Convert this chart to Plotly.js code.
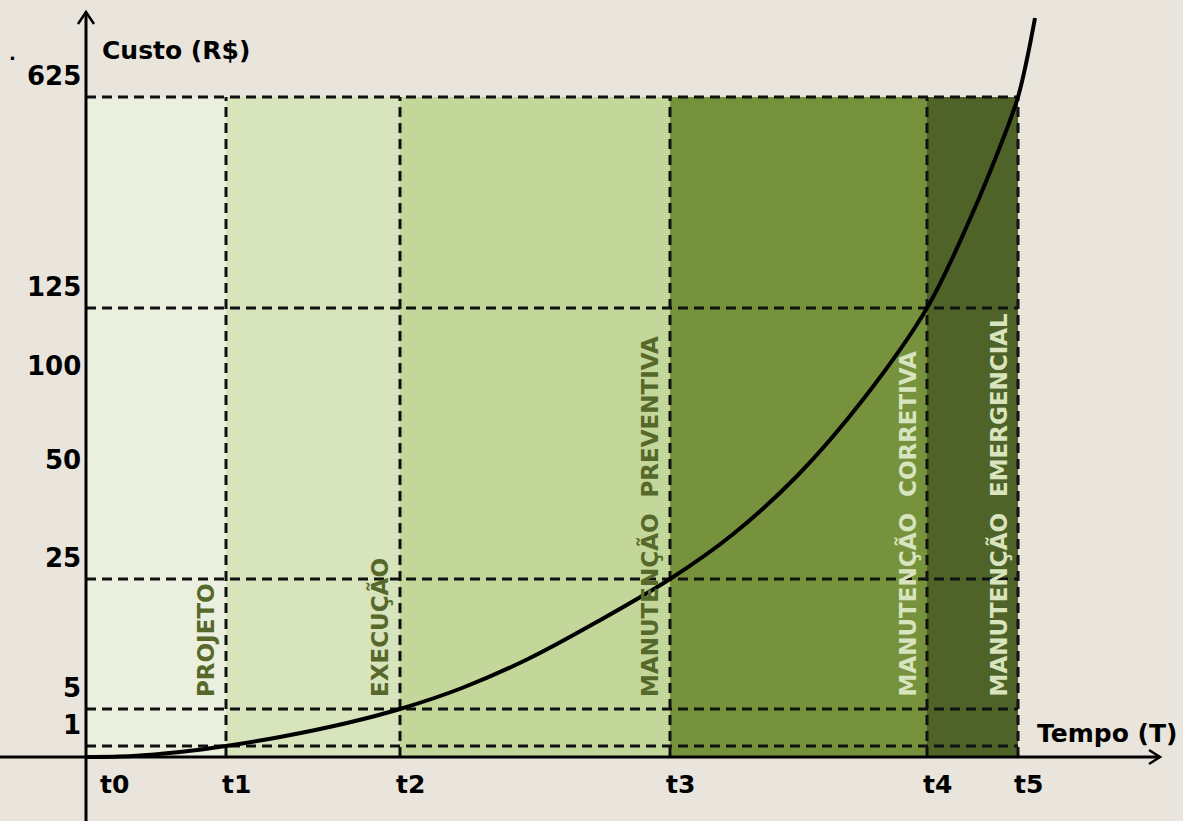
<!DOCTYPE html>
<html><head><meta charset="utf-8">
<script src="https://cdn.plot.ly/plotly-3.0.1.min.js"></script>
<style>html,body{margin:0;padding:0;background:#e9e4dc;overflow:hidden;} #chart{width:1183px;height:821px;}</style>
</head><body><div id="chart"></div>
<script>
// ---- data (chart units) ----
const timeLabels = ['t0','t1','t2','t3','t4','t5'];
const timeValues = [0, 140, 314, 584, 841, 932];
const costLevels = ['0','1','5','25','125','625'];
const costAtTime = [0, 11, 48, 178, 449, 660];
const costTickLabels = ['625','125','100','50','25','5','1'];
const costTickValues = [660, 449, 370, 276, 178, 48, 11];
const phaseNames = ['PROJETO','EXECUÇÃO','MANUTENÇÃO\u00a0\u00a0PREVENTIVA','MANUTENÇÃO\u00a0\u00a0CORRETIVA','MANUTENÇÃO\u00a0\u00a0EMERGENCIAL'];
const phaseColors = ['#ebf0de','#d7e4bc','#c4d79b','#76923c','#4f6228'];
const phaseTextColors = ['#56682a','#56682a','#56682a','#d7e4bd','#d7e4bd'];
const curveTime = [0, 47, 94, 140, 194, 261, 314, 376, 442, 509, 584, 646, 712, 779, 841, 884, 917, 932, 941, 949];
const curveCost = [0, 1, 5, 11, 20, 34, 48, 69, 98, 134, 178, 222, 282, 360, 449, 538, 618, 660, 698, 739];

// ---- layout ----
const W = 1183, H = 821;
const xMin = -86, yMin = -64;
const FONT = {family: 'DejaVu Sans', weight: 700, color: '#000', size: 25};
const dashLine = {color: '#111', width: 3, dash: '10px,6px'};
const nT = timeValues.length;
const bandTop = costAtTime[nT - 1];
const tEnd = timeValues[nT - 1];

const shapes = [];
for (let i = 0; i < nT - 1; i++) {
  shapes.push({type: 'rect', xref: 'x', yref: 'y', layer: 'below',
    x0: timeValues[i], x1: timeValues[i + 1], y0: 0, y1: bandTop,
    fillcolor: phaseColors[i], line: {width: 0}});
}
for (let i = 1; i < nT; i++) {
  shapes.push({type: 'line', xref: 'x', yref: 'y', layer: 'below',
    x0: 0, x1: tEnd, y0: costAtTime[i], y1: costAtTime[i], line: dashLine});
  shapes.push({type: 'line', xref: 'x', yref: 'y', layer: 'below',
    x0: timeValues[i], x1: timeValues[i], y0: 0, y1: bandTop, line: dashLine});
}
// axes with open arrowheads
const axisLine = {color: '#000', width: 3};
shapes.push({type: 'line', xref: 'x', yref: 'y', x0: 0, x1: 0, y0: yMin, y1: 745, line: axisLine});
shapes.push({type: 'line', xref: 'x', yref: 'y', x0: xMin, x1: 1074, y0: 0, y1: 0, line: axisLine});
shapes.push({type: 'path', xref: 'x', yref: 'y', path: 'M -8,733 L 0,745 L 8,733', line: {color: '#000', width: 2.5}});
shapes.push({type: 'path', xref: 'x', yref: 'y', path: 'M 1063,7 L 1074,0 L 1063,-7', line: {color: '#000', width: 2.5}});

const annotations = [];
costTickLabels.forEach((lab, i) => annotations.push({
  x: 0, y: costTickValues[i], xref: 'x', yref: 'y', text: lab, showarrow: false,
  xanchor: 'right', yanchor: 'middle', xshift: -3, yshift: 21, font: Object.assign({}, FONT, {size: 26})}));
timeLabels.forEach((lab, i) => annotations.push({
  x: timeValues[i], y: 0, xref: 'x', yref: 'y', text: lab, showarrow: false,
  xanchor: i === 0 ? 'left' : 'center', yanchor: 'top', xshift: i === 0 ? 12 : 10, yshift: -11, font: FONT}));
phaseNames.forEach((name, i) => annotations.push({
  x: timeValues[i + 1], y: costAtTime[2], xref: 'x', yref: 'y', text: name, showarrow: false,
  textangle: -90, xanchor: 'right', yanchor: 'bottom', xshift: -5, yshift: 10,
  font: {family: 'DejaVu Sans', weight: 700, size: 23, color: phaseTextColors[i]}}));
annotations.push({x: 14, y: 707, xref: 'x', yref: 'y', text: 'Custo (R$)', showarrow: false,
  xanchor: 'left', yanchor: 'middle', font: FONT});
annotations.push({x: 949, y: 24, xref: 'x', yref: 'y', text: 'Tempo (T)', showarrow: false,
  xanchor: 'left', yanchor: 'middle', font: FONT});
annotations.push({x: -74, y: 704, xref: 'x', yref: 'y', text: '.', showarrow: false,
  xanchor: 'center', yanchor: 'middle', font: {family: 'DejaVu Sans', weight: 700, size: 18, color: '#000'}});

const trace = {x: curveTime, y: curveCost, type: 'scatter', mode: 'lines',
  line: {color: '#000', width: 4, shape: 'spline', smoothing: 1}, hoverinfo: 'skip'};

const layout = {
  width: W, height: H, margin: {l: 0, r: 0, t: 0, b: 0}, showlegend: false,
  paper_bgcolor: '#e9e4dc', plot_bgcolor: '#e9e4dc',
  xaxis: {range: [xMin, xMin + W], visible: false, fixedrange: true},
  yaxis: {range: [yMin, yMin + H], visible: false, fixedrange: true},
  shapes: shapes, annotations: annotations
};
Plotly.newPlot('chart', [trace], layout, {displayModeBar: false, staticPlot: true});
</script></body></html>
